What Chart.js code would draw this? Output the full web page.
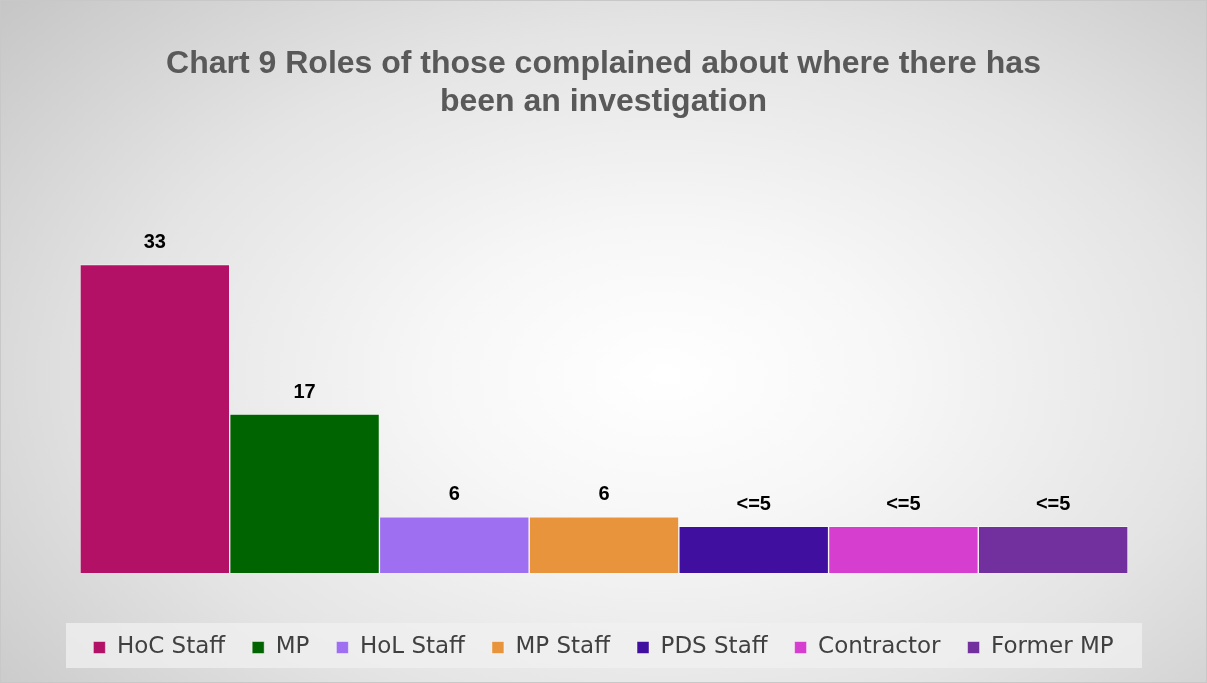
<!DOCTYPE html>
<html>
<head>
<meta charset="utf-8">
<script src="https://cdn.jsdelivr.net/npm/chart.js@4.4.1/dist/chart.umd.min.js"></script>
<style>
  html, body { margin: 0; padding: 0; }
  #wrap {
    position: relative;
    width: 1205px;
    height: 681px;
    border: 1px solid #c8c8c8;
    background: radial-gradient(ellipse 75% 85% at 55% 55%, #ffffff 0%, #f7f7f7 25%, #e4e4e4 60%, #c4c4c4 100%);
  }
</style>
</head>
<body>
<div id="wrap"><canvas id="rolesChart" width="1205" height="681"></canvas></div>
<script>
// chart values
const roles = ['HoC Staff', 'MP', 'HoL Staff', 'MP Staff', 'PDS Staff', 'Contractor', 'Former MP'];
const counts = [33, 17, 6, 6, 5, 5, 5];
const valueLabels = ['33', '17', '6', '6', '<=5', '<=5', '<=5'];
const barColours = ['#b31166', '#006400', '#9e6ff0', '#e8943c', '#410fa0', '#d63ecf', '#72309e'];

const datasets = roles.map(function (role, i) {
    return {
        label: role,
        data: [counts[i]],
        backgroundColor: barColours[i],
        borderColor: 'rgba(255,255,255,0.45)',
        borderWidth: 1,
        barPercentage: 1,
        categoryPercentage: 1
    };
});

// value labels above each bar
const valueLabelPlugin = {
    id: 'valueLabels',
    afterDatasetsDraw(chart) {
        const ctx = chart.ctx;
        ctx.save();
        ctx.font = 'bold 20px "Liberation Sans", Arial, sans-serif';
        ctx.fillStyle = '#000000';
        ctx.textAlign = 'center';
        ctx.textBaseline = 'bottom';
        chart.data.datasets.forEach(function (ds, i) {
            const bar = chart.getDatasetMeta(i).data[0];
            ctx.fillText(valueLabels[i], bar.x, bar.y - 12);
        });
        ctx.restore();
    }
};

// light panel behind the legend
const legendPanel = {
    id: 'legendPanel',
    beforeDraw(chart) {
        const lg = chart.legend;
        if (!lg) return;
        const ctx = chart.ctx;
        ctx.save();
        ctx.fillStyle = 'rgba(240,240,240,0.75)';
        ctx.fillRect(chart.chartArea.left - 14, lg.top + 14, chart.chartArea.width + 28, 45);
        ctx.restore();
    }
};

// invisible axis used only as side spacing
function spacer(width) {
    return function (scale) { scale.width = width; };
}

const ctxRoles = document.getElementById('rolesChart').getContext('2d');
const rolesChart = new Chart(ctxRoles, {
    type: 'bar',
    data: {
        labels: [''],
        datasets: datasets
    },
    options: {
        responsive: false,
        animation: false,
        layout: {
            padding: { left: 20, right: 20, top: 0, bottom: 13 }
        },
        scales: {
            x: {
                display: true,
                grid: { display: false },
                border: { display: false },
                ticks: { display: false },
                afterFit: function (scale) { scale.height = 36; }
            },
            y: {
                display: true,
                position: 'left',
                min: 0,
                max: 35,
                grid: { display: false },
                border: { display: false },
                ticks: { display: false },
                afterFit: spacer(59)
            },
            yRight: {
                display: true,
                position: 'right',
                min: 0,
                max: 35,
                grid: { display: false },
                border: { display: false },
                ticks: { display: false },
                afterFit: spacer(58)
            }
        },
        plugins: {
            title: {
                display: true,
                text: ['Chart 9 Roles of those complained about where there has', 'been an investigation'],
                color: '#595959',
                font: { family: '"Liberation Sans", Arial, sans-serif', size: 32, weight: 'bold', lineHeight: 1.2 },
                padding: { top: 44, bottom: 124 }
            },
            legend: {
                position: 'bottom',
                labels: {
                    boxWidth: 12,
                    boxHeight: 12,
                    padding: 27,
                    color: '#404040',
                    font: { family: '"DejaVu Sans", sans-serif', size: 23 }
                }
            },
            tooltip: { enabled: false }
        }
    },
    plugins: [legendPanel, valueLabelPlugin]
});
</script>
</body>
</html>
